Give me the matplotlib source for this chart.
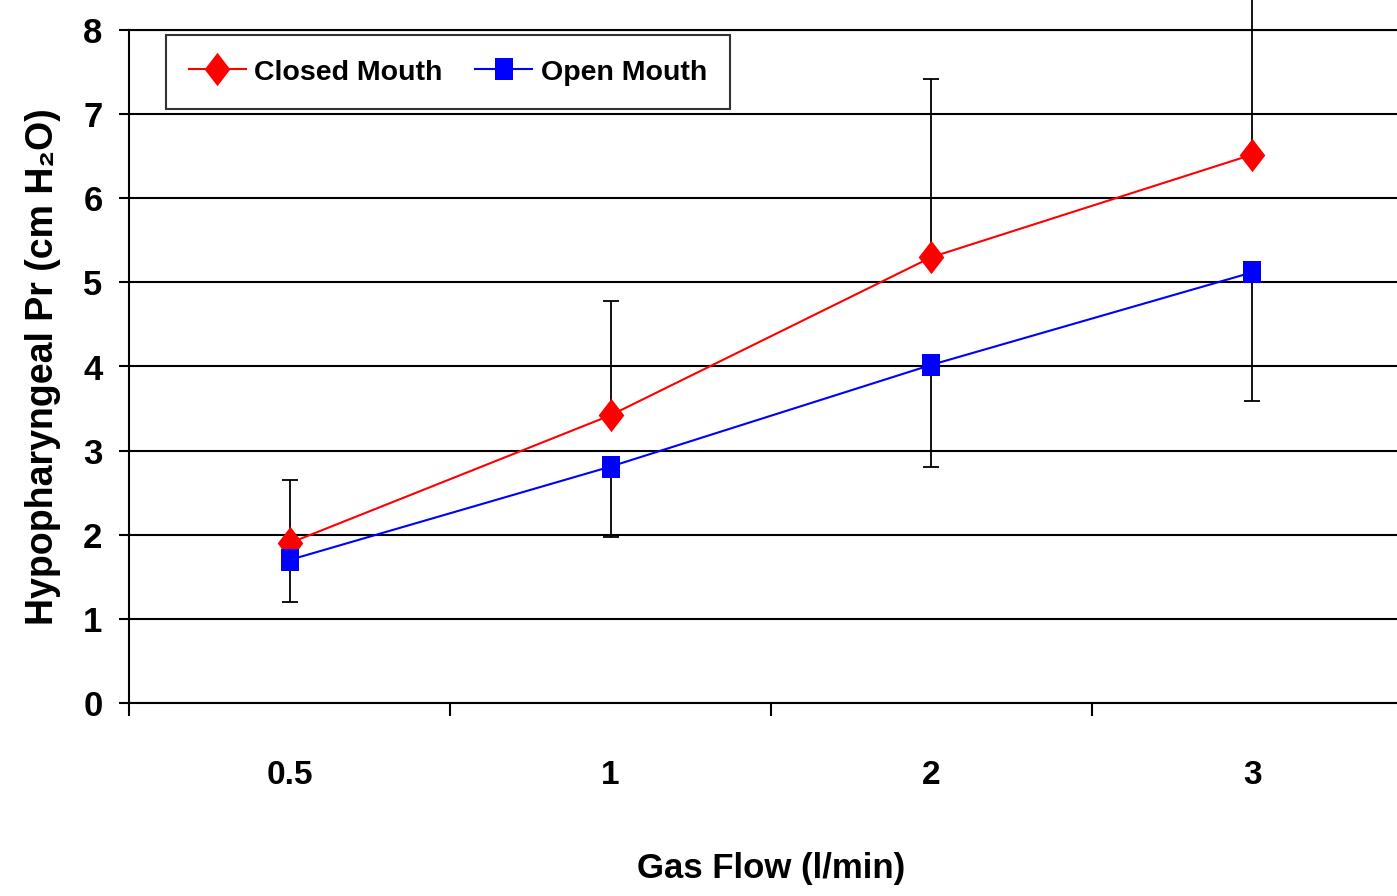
import matplotlib
matplotlib.use("Agg")
import matplotlib.pyplot as plt
from matplotlib.path import Path
import numpy as np

categories = ["0.5", "1", "2", "3"]
closed_mouth = [1.9, 3.42, 5.3, 6.52]
closed_err_up = [0.75, 1.36, 2.12, 1.93]
open_mouth = [1.7, 2.81, 4.02, 5.12]
open_err_down = [0.5, 0.84, 1.22, 1.53]
y_ticks = [0, 1, 2, 3, 4, 5, 6, 7, 8]

FONT = ["Liberation Sans", "DejaVu Sans"]

diamond = Path([(0, 1), (0.77, 0), (0, -1), (-0.77, 0), (0, 1)],
               [Path.MOVETO, Path.LINETO, Path.LINETO, Path.LINETO, Path.CLOSEPOLY])
rect = Path([(-0.77, -1), (0.77, -1), (0.77, 1), (-0.77, 1), (-0.77, -1)],
            [Path.MOVETO, Path.LINETO, Path.LINETO, Path.LINETO, Path.CLOSEPOLY])

fig = plt.figure(figsize=(13.97, 8.96), dpi=100)
ax = fig.add_axes([129 / 1397, 1 - 703 / 896, 1284 / 1397, 673 / 896])

x = np.arange(len(categories))

ax.errorbar(x, closed_mouth, yerr=[np.zeros(4), closed_err_up], fmt="none",
            ecolor="black", elinewidth=1.3, capsize=6, capthick=1.3, zorder=3,
            clip_on=False)
ax.errorbar(x, open_mouth, yerr=[open_err_down, np.zeros(4)], fmt="none",
            ecolor="black", elinewidth=1.3, capsize=6, capthick=1.3, zorder=3,
            clip_on=False)

ax.plot(x, closed_mouth, color="#FF0000", lw=1.5, marker=diamond, markersize=24,
        markerfacecolor="#FF0000", markeredgecolor="#FF0000", markeredgewidth=0,
        label="Closed Mouth", zorder=4, clip_on=False)
ax.plot(x, open_mouth, color="#0000FF", lw=1.5, marker=rect, markersize=16,
        markerfacecolor="#0000FF", markeredgecolor="#0000FF", markeredgewidth=0,
        label="Open Mouth", zorder=5, clip_on=False)

ax.set_xlim(-0.5, len(categories) - 0.5)
ax.set_ylim(0, 8)
ax.set_yticks(y_ticks)
ax.set_yticklabels([str(t) for t in y_ticks], fontfamily=FONT,
                   fontweight="bold", fontsize=25)
ax.set_xticks(x)
ax.set_xticklabels(categories, fontfamily=FONT, fontweight="bold", fontsize=24)
ax.set_xticks(np.arange(-0.5, len(categories)), minor=True)
ax.tick_params(axis="x", which="major", length=0, pad=41)
ax.tick_params(axis="x", which="minor", length=9, width=1.5, direction="out")
ax.tick_params(axis="y", which="major", length=7, width=1.5, direction="out", pad=12)

ax.yaxis.grid(True, color="black", lw=1.5)
ax.set_axisbelow(True)
ax.spines["right"].set_visible(False)
for s in ["left", "bottom", "top"]:
    ax.spines[s].set_linewidth(1.5)
    ax.spines[s].set_color("black")

ax.set_xlabel("Gas Flow (l/min)", fontfamily=FONT, fontweight="bold",
              fontsize=25, labelpad=44)
ax.set_ylabel("Hypopharyngeal Pr (cm H\u2082O)", fontfamily=FONT,
              fontweight="bold", fontsize=27, labelpad=16)

leg = ax.legend(loc="upper left", bbox_to_anchor=(37 / 1284, 1 - 5 / 673),
                ncol=2, frameon=True, fancybox=False, shadow=False,
                prop={"family": FONT, "weight": "bold", "size": 20.5},
                handlelength=2.0, handleheight=1.0, handletextpad=0.3,
                columnspacing=1.15, borderpad=0.8, borderaxespad=0)
leg.get_frame().set_edgecolor("black")
leg.get_frame().set_linewidth(1.5)

fig.savefig("out.png", dpi=100)
